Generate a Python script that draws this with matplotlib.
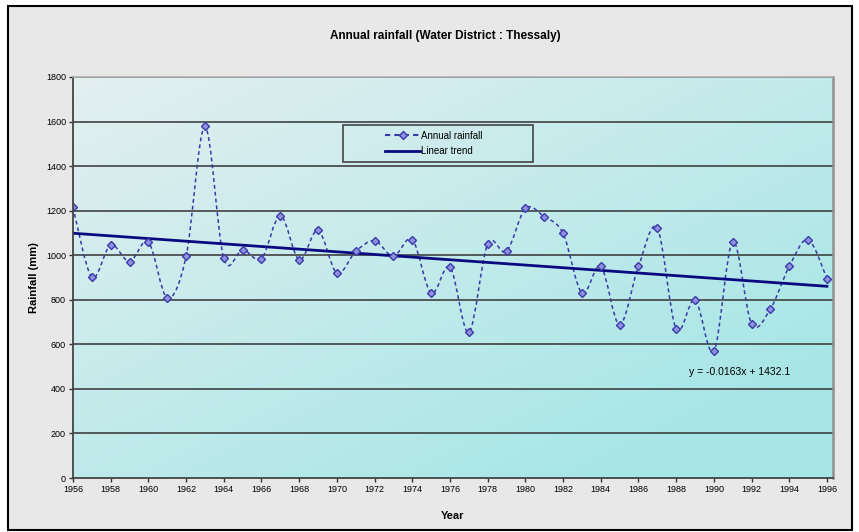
import numpy as np
import pandas as pd
import matplotlib
matplotlib.use("Agg")
import matplotlib.pyplot as plt
from matplotlib.path import Path
from matplotlib.patches import PathPatch, Rectangle
from matplotlib.lines import Line2D

plt.rcParams['font.family'] = ['Liberation Sans', 'DejaVu Sans']

# annual rainfall (mm)
years = list(range(1956, 1997))
rainfall = [1215, 902, 1046, 971, 1059, 808, 995, 1578, 986, 1025,
            985, 1178, 979, 1112, 920, 1017, 1065, 995, 1070, 830,
            947, 654, 1050, 1017, 1210, 1173, 1098, 830, 950, 688,
            950, 1121, 669, 800, 569, 1061, 693, 759, 950, 1070, 895]

# trend as printed on the chart (x = excel date serial)
trend_slope = -0.0163
trend_intercept = 1432.1
trend_label = "y = -0.0163x + 1432.1"

x = np.array(years, dtype=float)
y = np.array(rainfall, dtype=float)

fig = plt.figure(figsize=(8.59, 5.32), dpi=100)
fig.patch.set_facecolor('white')
# grey chart area with black frame
fig.patches.append(Rectangle((8 / 859, 2 / 532), 844 / 859, 524 / 532,
                             transform=fig.transFigure, facecolor='#e8e8e8',
                             edgecolor='black', linewidth=1.5, zorder=-10))

ax = fig.add_axes([73 / 859, 1 - 478 / 532, 760 / 859, 401 / 532])
ax.set_facecolor('none')

# diagonal gradient background
gx, gy = np.meshgrid(np.linspace(0, 1, 200), np.linspace(0, 1, 200))
t = np.clip(0.55 * gx + 0.6 * gy, 0, 1)
c0 = np.array([228, 239, 240]) / 255.0
c1 = np.array([166, 230, 230]) / 255.0
img = c0[None, None, :] * (1 - t[..., None]) + c1[None, None, :] * t[..., None]
ax.imshow(img, extent=[0, 1, 0, 1], transform=ax.transAxes, aspect='auto', zorder=0)

ax.set_xlim(1956, 1996.32)
ax.set_ylim(0, 1800)

# horizontal gridlines
for v in range(200, 1801, 200):
    ax.axhline(v, color='#333333', linewidth=1.1, zorder=1)

# smoothed curve (excel style bezier)
pts = np.column_stack([x, y])
verts = [pts[0]]
codes = [Path.MOVETO]
n = len(pts)
for i in range(n - 1):
    p_prev = pts[max(i - 1, 0)]
    p0 = pts[i]
    p1 = pts[i + 1]
    p_next = pts[min(i + 2, n - 1)]
    verts += [p0 + (p1 - p_prev) / 6.0, p1 - (p_next - p0) / 6.0, p1]
    codes += [Path.CURVE4] * 3
curve = PathPatch(Path(verts, codes), facecolor='none', edgecolor='#3838a8',
                  linewidth=1.1, linestyle=(0, (2.5, 2)), zorder=3)
ax.add_patch(curve)
ax.plot(x, y, linestyle='none', marker='D', markersize=4.2,
        markerfacecolor='#9090e0', markeredgecolor='#3a3aa8', markeredgewidth=1, zorder=4)

# linear trend
serial = np.array([(pd.Timestamp(f'{yr}-01-01') - pd.Timestamp('1899-12-30')).days
                   for yr in years], dtype=float)
ax.plot(x, trend_slope * serial + trend_intercept, color='#0a0a80', linewidth=2, zorder=3)

ax.text(1988.7, 476, trend_label, fontsize=7.5, va='center', ha='left', zorder=5)

ax.set_xticks(range(1956, 1997, 2))
ax.set_yticks(range(0, 1801, 200))
ax.tick_params(axis='both', labelsize=6.5, length=3, width=1, color='#333333', pad=2)
ax.spines['top'].set_color('#b0b0b0')
ax.spines['top'].set_linewidth(1.2)
ax.spines['right'].set_color('#909090')
ax.spines['right'].set_linewidth(1.8)
for s in ['left', 'bottom']:
    ax.spines[s].set_color('#444444')
    ax.spines[s].set_linewidth(1.3)
for s in ax.spines.values():
    s.set_zorder(6)

ax.set_xlabel('Year', fontsize=8, fontweight='bold', labelpad=12)
ax.set_ylabel('Rainfall (mm)', fontsize=8, fontweight='bold', labelpad=5)
fig.text(445 / 859, 1 - 36 / 532, 'Annual rainfall (Water District : Thessaly)',
         ha='center', va='center', fontsize=8.5, fontweight='bold')

# legend frame drawn separately, legend entries centred inside it
ax.add_patch(Rectangle((0.355, 0.788), 0.25, 0.092, transform=ax.transAxes,
                       facecolor='none', edgecolor='#444444', linewidth=1.2, zorder=7))
handles = [Line2D([0], [0], color='#3838a8', linestyle=(0, (2.5, 2)), marker='D',
                  markersize=4, markerfacecolor='#9090e0', markeredgecolor='#3a3aa8'),
           Line2D([0], [0], color='#0a0a80', linewidth=2)]
leg = ax.legend(handles, ['Annual rainfall', 'Linear trend'], loc='center',
                bbox_to_anchor=(0.355 + 0.12, 0.788 + 0.046),
                fontsize=7, frameon=False, handlelength=3.6,
                handletextpad=0.1, borderpad=0.0, labelspacing=0.6, borderaxespad=0)
leg.set_zorder(8)

fig.savefig('out.png', dpi=100)
